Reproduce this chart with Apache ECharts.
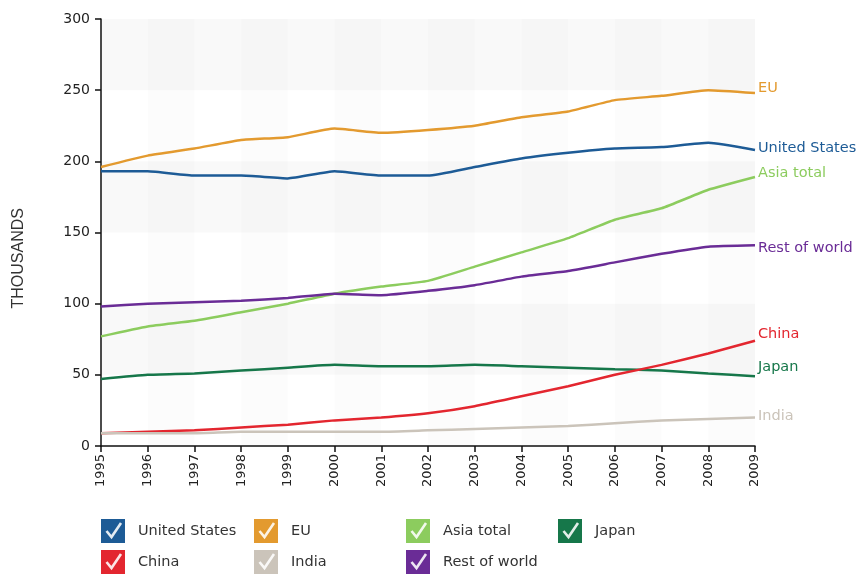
<!DOCTYPE html>
<html>
<head>
<meta charset="utf-8">
<script src="https://cdn.jsdelivr.net/npm/echarts@6/dist/echarts.min.js"></script>
<style>
  html, body { margin: 0; padding: 0; background: #fff; }
  #main { width: 863px; height: 577px; }
</style>
</head>
<body>
<div id="main"></div>
<script>
var years = ['1995','1996','1997','1998','1999','2000','2001','2002','2003','2004','2005','2006','2007','2008','2009'];

var unitedStates = [193,193,190,190,188,193,190,190,196,202,206,209,210,213,208];
var eu           = [196,204,209,215,217,223,220,222,225,231,235,243,246,250,248];
var asiaTotal    = [77,84,88,94,100,107,112,116,126,136,146,159,167,180,189];
var japan        = [47,50,51,53,55,57,56,56,57,56,55,54,53,51,49];
var china        = [9,10,11,13,15,18,20,23,28,35,42,50,57,65,74];
var india        = [9,9,9,10,10,10,10,11,12,13,14,16,18,19,20];
var restOfWorld  = [98,100,101,102,104,107,106,109,113,119,123,129,135,140,141];

var yTicks = [0, 50, 100, 150, 200, 250, 300];

var FONT = 'DejaVu Sans';

// legend slots: [column, row]
var seriesDefs = [
  { name: 'United States', data: unitedStates, color: '#1d5b96', dy: -2, slot: [0, 0] },
  { name: 'EU',            data: eu,           color: '#e39a2f', dy: -5, slot: [1, 0] },
  { name: 'Asia total',    data: asiaTotal,    color: '#8ccc5e', dy: -4, slot: [2, 0] },
  { name: 'Japan',         data: japan,        color: '#16774a', dy: -9, slot: [3, 0] },
  { name: 'China',         data: china,        color: '#e3262f', dy: -6, slot: [0, 1] },
  { name: 'India',         data: india,        color: '#cbc4ba', dy: -1, slot: [1, 1] },
  { name: 'Rest of world', data: restOfWorld,  color: '#6a2c96', dy: 3,  slot: [2, 1] }
];
var legendCols = [101, 254, 406, 558];
var legendRows = [519, 550];

function checkIcon(color) {
  var svg = '<svg xmlns="http://www.w3.org/2000/svg" width="32" height="24" viewBox="0 0 32 24">' +
    '<rect x="0" y="0" width="24" height="24" fill="' + color + '"/>' +
    '<path d="M5.5 12 L10.5 18 L20 4" stroke="#ffffff" stroke-opacity="0.88" stroke-width="2.6" fill="none"/>' +
    '</svg>';
  return 'image://data:image/svg+xml;charset=utf-8,' + encodeURIComponent(svg);
}

var legends = seriesDefs.map(function (s) {
  return {
    left: legendCols[s.slot[0]],
    top: legendRows[s.slot[1]],
    padding: 0,
    itemWidth: 32,
    itemHeight: 24,
    selectedMode: false,
    textStyle: { fontFamily: FONT, fontSize: 14.5, color: '#333' },
    data: [{ name: s.name, icon: checkIcon(s.color) }]
  };
});

var chart = echarts.init(document.getElementById('main'));
chart.setOption({
  animation: false,
  backgroundColor: '#fff',
  grid: { left: 101, right: 108, top: 19, bottom: 131, containLabel: false },
  legend: legends,
  graphic: [{
    type: 'text',
    left: 11,
    top: 208,
    rotation: Math.PI / 2,
    style: { text: 'THOUSANDS', fontFamily: 'Liberation Sans', fontSize: 16, fill: '#333' }
  }],
  xAxis: {
    type: 'category',
    data: years,
    boundaryGap: false,
    axisLine: { lineStyle: { color: '#111', width: 1.5 } },
    axisTick: { length: 6, lineStyle: { color: '#111', width: 1.5 } },
    axisLabel: { rotate: 90, fontFamily: FONT, fontSize: 13, color: '#222', margin: 8 },
    splitLine: { show: false },
    splitArea: { show: true, areaStyle: { color: ['rgba(0,0,0,0)', 'rgba(0,0,0,0.01)'] } }
  },
  yAxis: {
    type: 'value',
    min: yTicks[0],
    max: yTicks[yTicks.length - 1],
    interval: 50,
    axisLine: { show: true, lineStyle: { color: '#111', width: 1.5 } },
    axisTick: { show: true, length: 6, lineStyle: { color: '#111', width: 1.5 } },
    axisLabel: { fontFamily: FONT, fontSize: 14, color: '#222', margin: 11 },
    splitLine: { show: false },
    splitArea: { show: true, areaStyle: { color: ['rgba(0,0,0,0)', 'rgba(0,0,0,0.022)'] } }
  },
  series: seriesDefs.map(function (s) {
    return {
      name: s.name,
      type: 'line',
      data: s.data,
      showSymbol: false,
      symbol: 'none',
      smooth: 0.15,
      color: s.color,
      lineStyle: { width: 2.5, color: s.color },
      endLabel: {
        show: true,
        formatter: '{a}',
        color: s.color,
        fontFamily: FONT,
        fontSize: 14.5,
        distance: 3,
        offset: [0, s.dy]
      },
      emphasis: { disabled: true }
    };
  })
});
</script>
</body>
</html>
